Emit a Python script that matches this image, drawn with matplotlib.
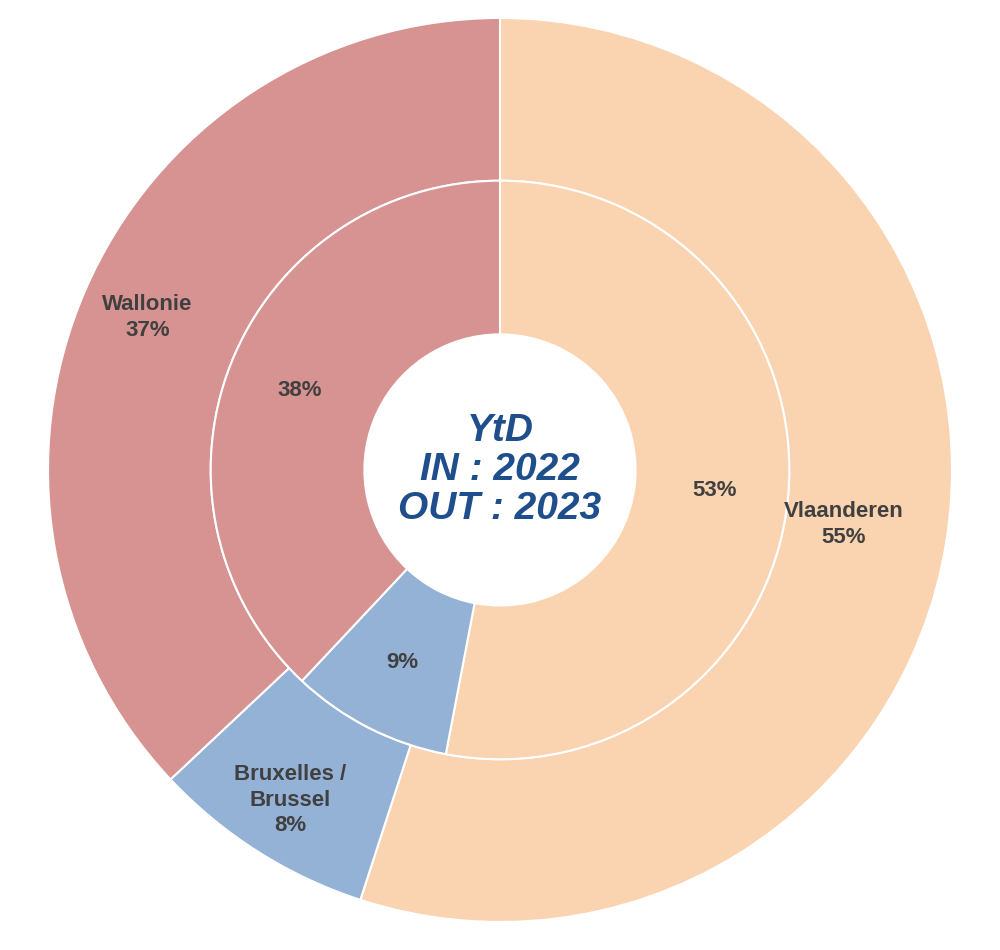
import numpy as np
import matplotlib.pyplot as plt

plt.rcParams["font.family"] = ["Liberation Sans", "DejaVu Sans"]

regions = ["Vlaanderen", "Bruxelles /\nBrussel", "Wallonie"]
outer_pct = [55, 8, 37]   # OUT : 2023
inner_pct = [53, 9, 38]   # IN : 2022
colors = ["#FAD3B1", "#94B1D6", "#D69391"]
center_lines = ["YtD", "IN : 2022", "OUT : 2023"]

fig = plt.figure(figsize=(10, 9.5), dpi=100)
ax = fig.add_axes([0.048, 0.0295, 0.904, 0.9516])

hole = 0.30
mid = 0.64
wedges_out, _ = ax.pie(outer_pct, radius=1.0, colors=colors, startangle=90,
                       counterclock=False,
                       wedgeprops=dict(width=1.0 - mid, edgecolor="white", linewidth=1.5))
wedges_in, _ = ax.pie(inner_pct, radius=mid, colors=colors, startangle=90,
                      counterclock=False,
                      wedgeprops=dict(width=mid - hole, edgecolor="white", linewidth=1.5))

txt = dict(ha="center", va="center", fontsize=16, fontweight="bold", color="#404040")
out_r = [0.77, 0.865, 0.85]
for w, name, p, r in zip(wedges_out, regions, outer_pct, out_r):
    a = np.deg2rad((w.theta1 + w.theta2) / 2)
    ax.text(r * np.cos(a), r * np.sin(a), f"{name}\n{p}%", linespacing=1.3, **txt)
for w, p in zip(wedges_in, inner_pct):
    a = np.deg2rad((w.theta1 + w.theta2) / 2)
    ax.text(0.477 * np.cos(a), 0.477 * np.sin(a), f"{p}%", **txt)

ax.text(0, 0, "\n".join(center_lines), ha="center", va="center", fontsize=28,
        fontweight="bold", fontstyle="italic", color="#1F4E8C", linespacing=1.1)

ax.set_xlim(-1, 1)
ax.set_ylim(-1, 1)
ax.set_aspect("equal")
ax.axis("off")
fig.savefig("out.png", dpi=100, facecolor="white")
